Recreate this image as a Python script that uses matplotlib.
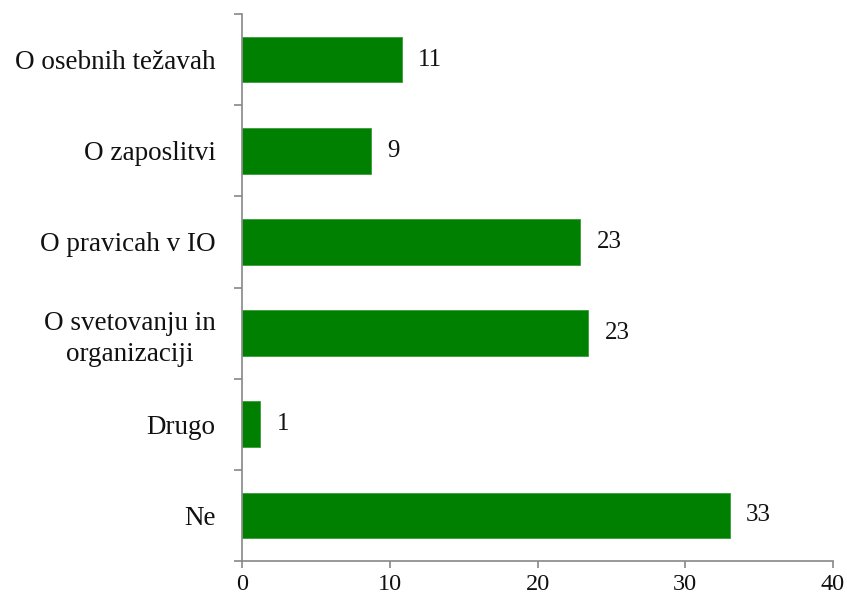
import matplotlib
matplotlib.use("Agg")
import matplotlib.pyplot as plt
import numpy as np

categories = ["O osebnih težavah", "O zaposlitvi", "O pravicah v IO",
              "O svetovanju in\norganizaciji", "Drugo", "Ne"]
values = [10.8, 8.7, 22.9, 23.4, 1.2, 33.0]
labels = ["11", "9", "23", "23", "1", "33"]
xticks = [0, 10, 20, 30, 40]

plt.rcParams['font.family'] = ['Liberation Serif', 'DejaVu Serif']

fig = plt.figure(figsize=(8.47, 6.02), dpi=100)
ax = fig.add_axes([242/847, 1-561/602, (833-242)/847, (561-14)/602])

n = len(categories)
y = np.arange(n)[::-1]
ax.barh(y, values, height=0.5, color='#008000', edgecolor='#3c9c3c', linewidth=0.6)

for yi, v, lab in zip(y, values, labels):
    ax.annotate(lab, (v, yi), xytext=(12, 0), textcoords='offset points',
                ha='left', va='center', fontsize=18, color='#111111')

ax.set_xlim(0, 40)
ax.set_ylim(-0.5, n-0.5)
ax.set_xticks(xticks)
ax.set_xticklabels([str(t) for t in xticks], fontsize=17.5, color='#111111')
ax.set_yticks(y)
ax.set_yticklabels(categories, fontsize=19.5, color='#111111',
                   multialignment='center', linespacing=1.3)
ax.set_yticks(np.arange(-0.5, n, 1.0), minor=True)

gray = '#878787'
for s in ['top', 'right']:
    ax.spines[s].set_visible(False)
for s in ['left', 'bottom']:
    ax.spines[s].set_color(gray)
    ax.spines[s].set_linewidth(1.2)

ax.tick_params(axis='y', which='major', length=0, pad=19)
ax.tick_params(axis='y', which='minor', length=6, width=1.2, color=gray, direction='out')
ax.tick_params(axis='x', which='major', length=5, width=1.2, color=gray, pad=4)

fig.savefig("out.png", dpi=100)
